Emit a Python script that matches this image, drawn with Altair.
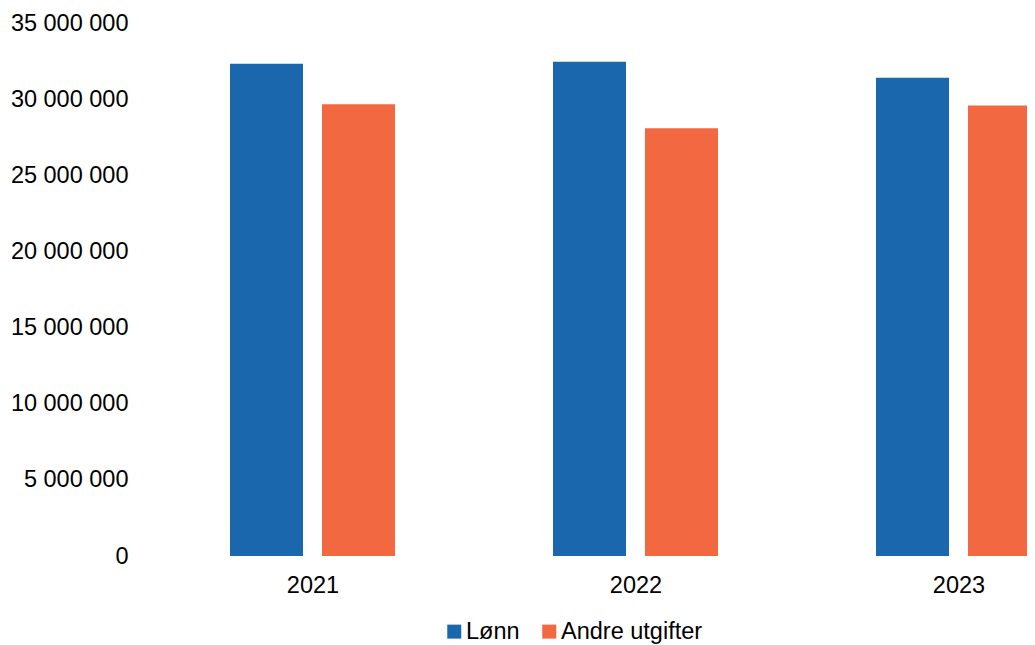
import altair as alt
import pandas as pd

years = ["2021", "2022", "2023"]
series = ["Lønn", "Andre utgifter"]
lonn = [32350000, 32480000, 31430000]
andre = [29700000, 28120000, 29610000]
colors = ["#1B67AD", "#F26941"]

rows = []
for i, y in enumerate(years):
    rows.append({"year": y, "serie": series[0], "value": lonn[i]})
    rows.append({"year": y, "serie": series[1], "value": andre[i]})
df = pd.DataFrame(rows)

font = "Liberation Sans"

chart = alt.Chart(df).mark_bar(clip=True).encode(
    x=alt.X("year:N", sort=years, title=None,
            scale=alt.Scale(range=[0, 969], paddingInner=0, paddingOuter=0),
            axis=alt.Axis(labelAngle=0, domain=False, ticks=False, labelPadding=17,
                          labelFontSize=23.5, labelColor="#000", labelFont=font)),
    xOffset=alt.XOffset("serie:N", sort=series,
                        scale=alt.Scale(range=[78.5, 243.5], paddingInner=0.2065, paddingOuter=0)),
    y=alt.Y("value:Q", title=None, scale=alt.Scale(domain=[0, 35000000], nice=False),
            axis=alt.Axis(values=list(range(0, 35000001, 5000000)), grid=False, domain=False,
                          ticks=False, labelPadding=23.5, labelFontSize=23.5, labelColor="#000",
                          labelFont=font,
                          labelExpr="replace(format(datum.value, ','), /,/g, ' ')")),
    color=alt.Color("serie:N", sort=series, scale=alt.Scale(domain=series, range=colors),
                    legend=alt.Legend(title=None, orient="none", legendX=291, legendY=596,
                                      direction="horizontal", symbolType="square",
                                      symbolSize=196, symbolStrokeWidth=0, labelFontSize=23.5,
                                      labelFont=font, labelColor="#000", labelOffset=0,
                                      columnPadding=17, padding=0)),
).properties(
    width=875.5, height=532.5,
    autosize=alt.AutoSizeParams(type="none"),
    padding={"left": 143.5, "top": 15.5, "right": 0, "bottom": 89},
).configure_view(stroke=None)

chart.save("out.html", embed_options={"renderer": "svg", "actions": False})
